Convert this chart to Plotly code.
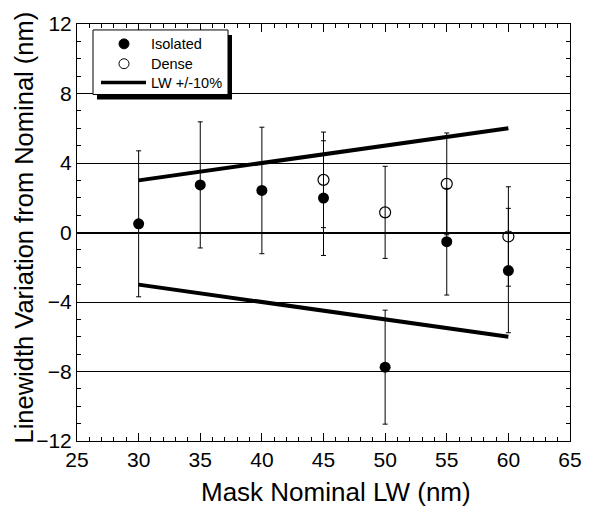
import plotly.graph_objects as go

# ---- data ----
x_iso = [30, 35, 40, 45, 50, 55, 60]
y_iso = [0.5, 2.74, 2.42, 1.98, -7.75, -0.53, -2.19]
e_iso = [4.2, 3.63, 3.64, 3.3, 3.28, 3.07, 3.58]

x_dense = [45, 50, 55, 60]
y_dense = [3.03, 1.16, 2.8, -0.23]
e_dense = [2.75, 2.65, 2.93, 2.86]

lw_x = [30, 60]
lw_upper = [3, 6]
lw_lower = [-3, -6]

legend_labels = ["Isolated", "Dense", "LW +/-10%"]
x_title = "Mask Nominal LW (nm)"
y_title = "Linewidth Variation from Nominal (nm)"

FONT = "Liberation Sans, Arial, Helvetica, sans-serif"
W, H = 596, 508
L, R, T, B = 77, 26, 21, 67
PW, PH = W - L - R, H - T - B


def px(xp):
    return (xp - L) / PW


def py(yp):
    return (H - B - yp) / PH


fig = go.Figure()

for yy in (lw_upper, lw_lower):
    fig.add_trace(go.Scatter(x=lw_x, y=yy, mode="lines",
                             line=dict(color="black", width=4),
                             showlegend=False, hoverinfo="skip"))

fig.add_trace(go.Scatter(
    x=x_dense, y=y_dense, mode="markers",
    marker=dict(symbol="circle-open", size=11, color="black", line=dict(width=1.2)),
    error_y=dict(type="data", array=e_dense, visible=True, color="black",
                 thickness=1, width=2.5),
    showlegend=False))

fig.add_trace(go.Scatter(
    x=x_iso, y=y_iso, mode="markers",
    marker=dict(symbol="circle", size=11, color="black"),
    error_y=dict(type="data", array=e_iso, visible=True, color="black",
                 thickness=1, width=2.5),
    showlegend=False))

# ---- manual legend with drop shadow ----
bx0, by0, bx1, by1 = 93, 27, 228, 92
shapes = [
    dict(type="rect", xref="paper", yref="paper",
         x0=px(bx0 + 4), x1=px(bx1 + 4), y0=py(by1 + 5), y1=py(by0 + 5),
         fillcolor="black", line=dict(width=0)),
    dict(type="rect", xref="paper", yref="paper",
         x0=px(bx0), x1=px(bx1), y0=py(by1), y1=py(by0),
         fillcolor="white", line=dict(color="black", width=1)),
    dict(type="circle", xref="paper", yref="paper",
         x0=px(119), x1=px(129), y0=py(46), y1=py(36),
         fillcolor="black", line=dict(color="black", width=1)),
    dict(type="circle", xref="paper", yref="paper",
         x0=px(119), x1=px(129), y0=py(66), y1=py(56),
         fillcolor="white", line=dict(color="black", width=1)),
    dict(type="line", xref="paper", yref="paper",
         x0=px(101), x1=px(146), y0=py(80), y1=py(80),
         line=dict(color="black", width=3.5)),
]
annotations = []
for lab, yp in zip(legend_labels, [41, 61, 80]):
    annotations.append(dict(xref="paper", yref="paper", x=px(149), y=py(yp),
                            text=lab, showarrow=False, xanchor="left",
                            yanchor="middle",
                            font=dict(family=FONT, size=14.5, color="black")))

# axis titles as annotations, positioned to match
annotations.append(dict(xref="paper", yref="paper", x=px(336), y=py(492),
                        text=x_title, showarrow=False, xanchor="center",
                        yanchor="middle", font=dict(family=FONT, size=26, color="black")))
annotations.append(dict(xref="paper", yref="paper", x=px(24), y=py(226),
                        text=y_title, showarrow=False, xanchor="center",
                        yanchor="middle", textangle=-90,
                        font=dict(family=FONT, size=25.5, color="black")))

fig.update_layout(
    width=W, height=H,
    margin=dict(l=L, r=R, t=T, b=B),
    paper_bgcolor="white", plot_bgcolor="white",
    font=dict(family=FONT, color="black"),
    shapes=shapes, annotations=annotations,
    showlegend=False,
)

fig.update_xaxes(
    range=[25, 65], tickmode="linear", tick0=25, dtick=5,
    ticks="inside", ticklen=8, tickwidth=1, tickcolor="black",
    minor=dict(dtick=1, ticks="inside", ticklen=4, tickwidth=1, tickcolor="black", showgrid=False),
    showline=True, linecolor="black", linewidth=1, mirror="ticks",
    showgrid=False, zeroline=False,
    tickfont=dict(family=FONT, size=21),
)
fig.update_yaxes(
    range=[-12, 12], tickmode="linear", tick0=-12, dtick=4,
    ticks="inside", ticklen=8, tickwidth=1, tickcolor="black",
    minor=dict(dtick=1, ticks="inside", ticklen=4, tickwidth=1, tickcolor="black", showgrid=False),
    showline=True, linecolor="black", linewidth=1, mirror="ticks",
    showgrid=True, gridcolor="black", gridwidth=1,
    zeroline=True, zerolinecolor="black", zerolinewidth=2,
    tickfont=dict(family=FONT, size=21),
)

fig.write_html("out.html")
